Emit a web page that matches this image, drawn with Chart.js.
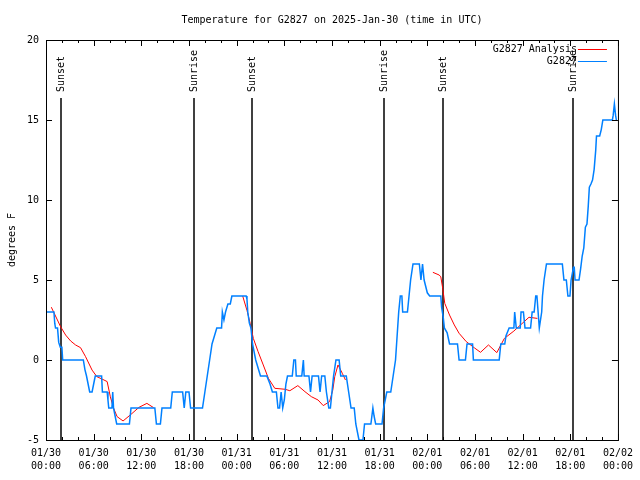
<!DOCTYPE html>
<html>
<head>
<meta charset="utf-8">
<title>Temperature for G2827</title>
<script src="https://cdn.jsdelivr.net/npm/chart.js@4.4.1/dist/chart.umd.min.js"></script>
<style>
  html, body { margin: 0; padding: 0; background: #fff; }
  #wrap { width: 640px; height: 480px; }
</style>
</head>
<body>
<div id="wrap"><canvas id="myChart" width="640" height="480"></canvas></div>
<script>
// hours since 01/30 00:00 UTC
var obsHours = [0, 1.0, 1.1, 1.2, 1.45, 1.6, 1.8, 2.0, 2.1, 4.7, 4.9, 5.1, 5.3, 5.5, 5.8, 6.0, 6.2, 7.0, 7.1, 7.7,
  7.8, 7.9, 8.3, 8.4, 8.5, 8.7, 8.9, 10.5, 10.7, 13.7, 13.9, 14.4, 14.6, 15.7, 15.9, 17.2, 17.4, 17.6, 18.0, 18.2,
  19.7, 20.0, 20.3, 20.6, 20.9, 21.2, 21.5, 22.1, 22.2, 22.4, 22.6, 22.9, 23.2, 23.4, 25.2, 25.3, 25.4, 25.6, 25.8, 26.0,
  26.4, 27.0, 27.8, 28.2, 28.5, 29.0, 29.2, 29.4, 29.6, 29.8, 30.0, 30.2, 30.4, 31.0, 31.2, 31.4, 31.5, 32.2, 32.4, 32.5,
  33.1, 33.3, 33.5, 34.3, 34.5, 34.7, 35.1, 35.3, 35.6, 35.8, 36.0, 36.2, 36.5, 36.9, 37.1, 37.8, 38.1, 38.4, 38.8, 39.0,
  39.4, 39.9, 40.1, 40.9, 41.15, 41.3, 41.5, 42.3, 42.5, 42.9, 43.4, 43.7, 44.0, 44.2, 44.4, 44.6, 44.8, 44.9, 45.5, 45.7,
  45.9, 46.2, 47.0, 47.2, 47.4, 47.6, 48.0, 48.3, 49.7, 49.8, 50.0, 50.15, 50.5, 50.8, 51.8, 52.0, 52.8, 53.0, 53.7, 53.8,
  57.05, 57.25, 57.75, 57.9, 58.3, 58.9, 59.0, 59.2, 59.7, 59.8, 60.1, 60.3, 61.0, 61.2, 61.45, 61.65, 61.8, 62.1, 62.4, 62.5,
  62.7, 63.0, 65.0, 65.2, 65.5, 65.7, 65.96, 66.1, 66.4, 66.5, 66.6, 67.1, 67.3, 67.5, 67.7, 67.9, 68.1, 68.26, 68.4, 68.6,
  68.8, 69.0, 69.2, 69.3, 69.7, 69.9, 70.1, 71.3, 71.4, 71.55, 71.7, 71.8];
var obsTemps = [3, 3, 2.3, 2, 2, 1.1, 0.8, 0.8, 0, 0, -0.6, -1, -1.5, -2, -2, -1.5, -1, -1, -2, -2,
  -2.5, -3, -3, -2, -3, -3.5, -4, -4, -3, -3, -4, -4, -3, -3, -2, -2, -3, -2, -2, -3,
  -3, -2, -1, 0, 1, 1.5, 2, 2, 3, 2.5, 3, 3.5, 3.5, 4, 4, 3.8, 3, 2.3, 2, 1,
  0, -1, -1, -1.5, -2, -2, -3, -3, -2, -3, -2.5, -1.5, -1, -1, 0, 0, -1, -1, 0, -1,
  -1, -2, -1, -1, -2, -1, -1, -2, -3, -3, -2, -1, 0, 0, -1, -1, -2, -3, -3, -4,
  -5, -5, -4, -4, -3, -3.5, -4, -4, -3, -2, -2, -1, 0, 1.5, 3, 4, 4, 3, 3, 4,
  5, 6, 6, 5, 6, 5, 4.2, 4, 4, 3.3, 2.7, 2, 1.7, 1, 1, 0, 0, 1, 1, 0,
  0, 1, 1, 1.5, 2, 2, 3, 2, 2, 3, 3, 2, 2, 3, 3, 4, 4, 2, 3, 4,
  5, 6, 6, 5, 5, 4, 4, 5, 5.8, 5.8, 5, 5, 5.7, 6.5, 7, 8.3, 8.5, 9.6, 10.8, 11,
  11.25, 11.9, 13.1, 14, 14, 14.4, 15, 15, 15.3, 16, 15.3, 15];

// analysis comes in three pieces, null breaks the line
var anaHours = [0.67, 1.84, 2.47, 3.1, 3.72, 4.35, 4.98, 5.8, 6.4, 7.3, 7.7, 8.1, 8.5, 8.95, 9.7, 10.6, 11.7, 12.7, 13.55, 14,
  24.76, 25.3, 25.7, 26.1, 26.7, 27.35, 28.0, 28.8, 30.1, 30.7, 31.7, 32.6, 33.4, 34.25, 34.9, 35.7, 36.1, 36.35, 36.76, 37.3, 37.7, 38,
  48.7, 49.5, 49.7, 49.94, 50.2, 50.8, 51.4, 52.0, 52.9, 53.9, 54.7, 55.7, 56.75, 57.7, 58.9, 60.2, 60.8, 61.86];
var anaTemps = [3.3, 2.08, 1.56, 1.19, 0.94, 0.77, 0.21, -0.63, -1.04, -1.25, -1.35, -2.3, -3.0, -3.54, -3.81, -3.44, -2.96, -2.71, -2.98, null,
  4.0, 3.1, 2.3, 1.35, 0.52, -0.31, -1.15, -1.77, -1.83, -1.92, -1.6, -1.98, -2.29, -2.5, -2.85, -2.6, -1.88, -1.04, -0.31, -0.83, -1.25, null,
  5.48, 5.31, 5.2, 4.48, 3.54, 2.81, 2.19, 1.67, 1.15, 0.77, 0.48, 0.94, 0.46, 1.35, 1.81, 2.4, 2.67, 2.6];

var sunHours = [1.88, 18.57, 25.96, 42.49, 50.0, 66.4];
var sunLabels = ['Sunset', 'Sunrise', 'Sunset', 'Sunrise', 'Sunset', 'Sunrise'];

var tickDates = ['01/30', '01/30', '01/30', '01/30', '01/31', '01/31', '01/31', '01/31', '02/01', '02/01', '02/01', '02/01', '02/02'];
var tickTimes = ['00:00', '06:00', '12:00', '18:00', '00:00', '06:00', '12:00', '18:00', '00:00', '06:00', '12:00', '18:00', '00:00'];

var FONT = '"DejaVu Sans Mono", "Liberation Mono", monospace';
Chart.defaults.font.family = FONT;
Chart.defaults.font.size = 10;
Chart.defaults.color = '#000';

function pts(xs, ys) {
  return xs.map(function (h, i) { return { x: h, y: ys[i] }; });
}

// gnuplot look: full frame, inward ticks, sun markers, legend in the corner
var gnuFrame = {
  id: 'gnuFrame',
  beforeDatasetsDraw: function (chart) {
    var ctx = chart.ctx, a = chart.chartArea, xs = chart.scales.x;
    ctx.save();
    ctx.strokeStyle = '#000';
    ctx.fillStyle = '#000';
    ctx.lineWidth = 1.5;
    ctx.font = '10px ' + FONT;
    sunHours.forEach(function (h, i) {
      var px = Math.round(xs.getPixelForValue(h));
      ctx.beginPath();
      ctx.moveTo(px, a.top + 58);
      ctx.lineTo(px, a.bottom);
      ctx.stroke();
      ctx.save();
      ctx.translate(px, a.top + 52);
      ctx.rotate(-Math.PI / 2);
      ctx.textAlign = 'left';
      ctx.textBaseline = 'middle';
      ctx.fillText(sunLabels[i], 0, 0);
      ctx.restore();
    });
    ctx.restore();
  },
  afterDraw: function (chart) {
    var ctx = chart.ctx, a = chart.chartArea, xs = chart.scales.x, ys = chart.scales.y;
    ctx.save();
    ctx.strokeStyle = '#000';
    ctx.lineWidth = 1;
    ctx.strokeRect(a.left + 0.5, a.top + 0.5, a.right - a.left, a.bottom - a.top);
    ctx.beginPath();
    for (var h = 0; h <= 72; h += 2) {
      var px = Math.round(xs.getPixelForValue(h)) + 0.5;
      var len = (h % 6 === 0) ? 6 : 3;
      ctx.moveTo(px, a.bottom); ctx.lineTo(px, a.bottom - len);
      ctx.moveTo(px, a.top); ctx.lineTo(px, a.top + len);
    }
    for (var v = -5; v <= 20; v += 5) {
      var py = Math.round(ys.getPixelForValue(v)) + 0.5;
      ctx.moveTo(a.left, py); ctx.lineTo(a.left + 6, py);
      ctx.moveTo(a.right, py); ctx.lineTo(a.right - 6, py);
    }
    ctx.stroke();

    ctx.font = '10px ' + FONT;
    ctx.fillStyle = '#000';
    ctx.textAlign = 'right';
    ctx.textBaseline = 'middle';
    var items = chart.data.datasets.slice().reverse();
    items.forEach(function (ds, i) {
      var ly = a.top + 9 + i * 12;
      ctx.fillText(ds.label, a.right - 41, ly);
      ctx.strokeStyle = ds.borderColor;
      ctx.lineWidth = 1;
      ctx.beginPath();
      ctx.moveTo(a.right - 40, ly + 0.5);
      ctx.lineTo(a.right - 11, ly + 0.5);
      ctx.stroke();
    });
    ctx.restore();
  }
};

var ctx = document.getElementById('myChart').getContext('2d');
var myChart = new Chart(ctx, {
  type: 'line',
  data: {
    datasets: [{
      label: 'G2827',
      data: pts(obsHours, obsTemps),
      borderColor: '#0080ff',
      borderWidth: 1.5,
      pointRadius: 0,
      tension: 0,
      fill: false
    }, {
      label: 'G2827 Analysis',
      data: pts(anaHours, anaTemps),
      borderColor: '#ff0000',
      borderWidth: 1,
      pointRadius: 0,
      tension: 0,
      fill: false,
      spanGaps: false
    }]
  },
  options: {
    responsive: false,
    animation: false,
    devicePixelRatio: 1,
    layout: { padding: { left: 0, right: 19, top: 0, bottom: 0 } },
    plugins: {
      legend: { display: false },
      tooltip: { enabled: false },
      title: {
        display: true,
        fullSize: false,
        text: 'Temperature for G2827 on 2025-Jan-30 (time in UTC)',
        color: '#000',
        font: { size: 10, weight: 'normal' },
        padding: { top: 14, bottom: 14 }
      }
    },
    scales: {
      x: {
        type: 'linear',
        min: 0,
        max: 72,
        grid: { display: false, drawTicks: false },
        border: { display: false },
        ticks: {
          stepSize: 6,
          autoSkip: false,
          maxRotation: 0,
          padding: 7,
          color: '#000',
          font: { size: 10, lineHeight: 1.3 },
          callback: function (v) {
            var i = Math.round(v / 6);
            return [tickDates[i], tickTimes[i]];
          }
        },
        afterFit: function (s) { s.height = 40; }
      },
      y: {
        min: -5,
        max: 20,
        grid: { display: false, drawTicks: false },
        border: { display: false },
        ticks: { stepSize: 5, padding: 7, color: '#000', font: { size: 10 } },
        title: {
          display: true,
          text: 'degrees F',
          color: '#000',
          font: { size: 10 },
          padding: { top: 6, bottom: 0 }
        },
        afterFit: function (s) { s.width = 46; }
      }
    }
  },
  plugins: [gnuFrame]
});
</script>
</body>
</html>
